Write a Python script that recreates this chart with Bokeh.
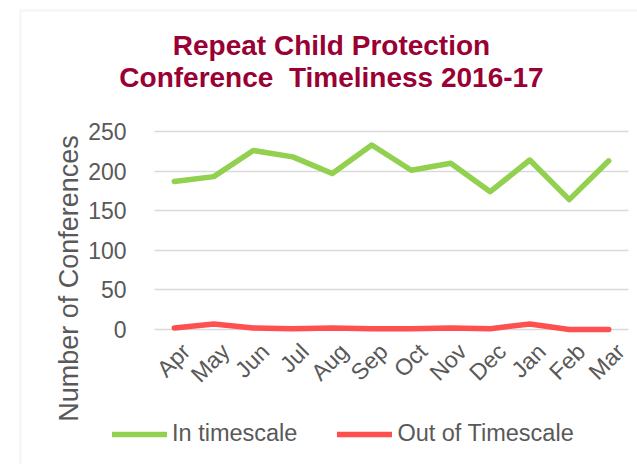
import math
from bokeh.plotting import figure
from bokeh.models import (Range1d, Legend, LegendItem, Label, BoxAnnotation, Grid,
                          FixedTicker, ColumnDataSource)
from bokeh.embed import file_html
from bokeh.resources import INLINE

months = ["Apr", "May", "Jun", "Jul", "Aug", "Sep", "Oct", "Nov", "Dec", "Jan", "Feb", "Mar"]
in_timescale = [187, 193, 226, 218, 197, 233, 201, 210, 174, 214, 164, 213]
out_of_timescale = [2, 7, 2, 1, 2, 1, 1, 2, 1, 7, 0, 0]
y_ticks = [0, 50, 100, 150, 200, 250]

title_lines = ["Repeat Child Protection", "Conference\u00a0 Timeliness 2016-17"]
y_label = "Number of Conferences"
series_names = ["In timescale", "Out of Timescale"]

FONT = "Liberation Sans"
GREY = "#595959"
GREEN = "#92d050"
RED = "#ff5050"
TITLE_COL = "#990033"
W, H = 637, 464

idx = list(range(len(months)))
src = ColumnDataSource(dict(x=idx, a=in_timescale, b=out_of_timescale))

# The frame covers the whole canvas; the plotting region (grid) is
# x in [-0.5, n-0.5] (page px 154..628) and y in [0, 250] (page px 329..131).
px_x = 39.5
px_y = 0.792
x0 = -0.5 - 154 / px_x
x1 = len(months) - 0.5 + (W - 628) / px_x
y1 = 329 / px_y
y0 = -(H - 329) / px_y

p = figure(width=W, height=H, x_range=Range1d(x0, x1), y_range=Range1d(y0, y1),
           output_backend="svg", toolbar_location=None,
           min_border_left=0, min_border_right=0, min_border_top=0, min_border_bottom=0)
p.title = None
p.outline_line_color = None
p.background_fill_color = "white"
p.border_fill_color = "white"

# chart area border
p.add_layout(BoxAnnotation(left=20, right=W + 50, top=H - 10, bottom=-50,
                           left_units="screen", right_units="screen",
                           top_units="screen", bottom_units="screen",
                           fill_alpha=0, line_color="#d9d9d9", line_width=2))

p.xgrid.visible = False
if "cross_bounds" in Grid.properties():
    p.ygrid.cross_bounds = (-0.5, len(months) - 0.5)
    p.ygrid.grid_line_color = "#d9d9d9"
    p.ygrid.grid_line_width = 1.5
else:
    p.ygrid.visible = False
    p.segment(x0=[-0.5] * len(y_ticks), x1=[len(months) - 0.5] * len(y_ticks),
              y0=y_ticks, y1=y_ticks, line_color="#d9d9d9", line_width=1.5)

r1 = p.line("x", "a", source=src, line_color=GREEN, line_width=5.5,
            line_join="round", line_cap="round")
r2 = p.line("x", "b", source=src, line_color=RED, line_width=5.5,
            line_join="round", line_cap="round")

p.yaxis.ticker = FixedTicker(ticks=y_ticks)
p.yaxis.fixed_location = -0.5
label_pos = [i + 0.3 for i in idx]
p.xaxis.ticker = FixedTicker(ticks=label_pos)
p.xaxis.major_label_overrides = {pos: m for pos, m in zip(label_pos, months)}
p.xaxis.fixed_location = -2.5

for ax in (p.xaxis, p.yaxis):
    ax.axis_line_color = None
    ax.major_tick_line_color = None
    ax.minor_tick_line_color = None
    ax.major_label_text_color = GREY
    ax.major_label_text_font = FONT
    ax.major_label_text_font_size = "23px"
p.yaxis.major_label_standoff = 22
p.xaxis.major_label_standoff = 10
p.xaxis.major_label_orientation = math.pi / 4

# title
for i, t in enumerate(title_lines):
    p.add_layout(Label(x=331, y=H - 45 - 32 * i, x_units="screen", y_units="screen",
                       text=t, text_align="center", text_baseline="middle",
                       text_font=FONT, text_font_style="bold",
                       text_font_size="28px", text_color=TITLE_COL))

# y axis title
p.add_layout(Label(x=68, y=H - 278, x_units="screen", y_units="screen",
                   text=y_label, angle=math.pi / 2, text_align="center",
                   text_baseline="middle", text_font=FONT,
                   text_font_size="27px", text_color=GREY))

legend = Legend(items=[LegendItem(label=series_names[0], renderers=[r1]),
                       LegendItem(label=series_names[1], renderers=[r2])],
                orientation="horizontal", location=(112, H - 447),
                glyph_width=55, glyph_height=20, label_height=20,
                label_standoff=5, spacing=40, padding=0, margin=0,
                border_line_color=None, background_fill_alpha=0,
                label_text_font=FONT, label_text_font_size="23.5px",
                label_text_color=GREY)
p.add_layout(legend, "center")

open("out.html", "w").write(file_html(p, INLINE))
